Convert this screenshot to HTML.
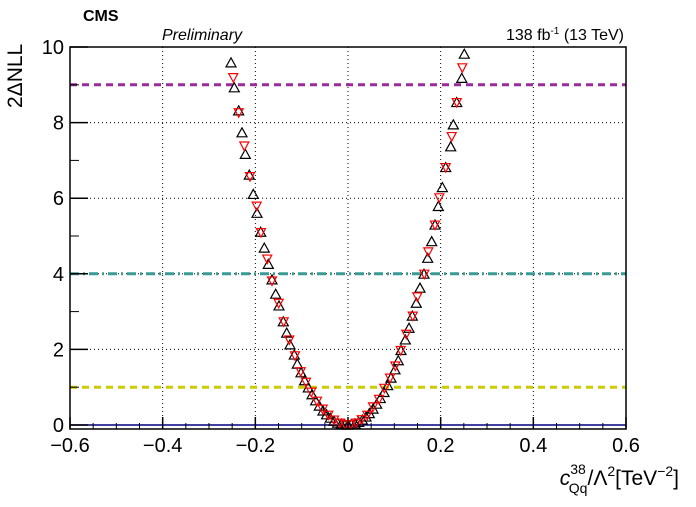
<!DOCTYPE html>
<html><head><meta charset="utf-8"><style>
body{margin:0;background:#fff;width:696px;height:502px;overflow:hidden}
svg{font-family:"Liberation Sans",Arial,sans-serif}
</style></head><body>
<svg id="chart" width="696" height="502" viewBox="0 0 696 502" xmlns="http://www.w3.org/2000/svg">
<g id="grid"></g>
<g id="refs"></g>
<line x1="70" y1="425" x2="626" y2="425" stroke="#000080" stroke-width="1.5"/>
<g id="series"></g>
<rect x="70" y="47" width="556" height="382" fill="none" stroke="#000" stroke-width="1.5"/>
<g id="axes"></g>
<text x="83" y="21" font-size="16" font-weight="bold">CMS</text>
<text x="162" y="40" font-size="16" font-style="italic">Preliminary</text>
<text x="624" y="40" font-size="16" text-anchor="end">138 fb<tspan font-size="10" dy="-6">-1</tspan><tspan dy="6"> (13 TeV)</tspan></text>
<text transform="translate(22,108) rotate(-90)" font-size="21">2ΔNLL</text>
<text x="679" y="485" font-size="21" text-anchor="end"><tspan font-style="italic">c</tspan><tspan font-size="14" dy="-11">38</tspan><tspan font-size="14" dx="-17" dy="19">Qq</tspan><tspan dy="-8">/Λ</tspan><tspan font-size="14" dy="-9">2</tspan><tspan dy="9">[TeV</tspan><tspan font-size="14" dy="-9">−2</tspan><tspan dy="9">]</tspan></text>
</svg>
<script>
const blackX=[-0.2525,-0.2454,-0.2359,-0.2288,-0.2216,-0.2130,-0.2044,-0.1964,-0.1884,-0.1807,-0.1720,-0.1640,-0.1561,-0.1489,-0.1396,-0.1323,-0.1252,-0.1159,-0.1094,-0.1014,-0.0937,-0.0857,-0.0777,-0.0699,-0.0619,-0.0540,-0.0462,-0.0382,-0.0302,-0.0224,-0.0145,-0.0065,0,
0.0071,0.0151,0.0231,0.0309,0.0389,0.0460,0.0540,0.0619,0.0697,0.0777,0.0857,0.0928,0.1014,0.1085,0.1144,0.1237,0.1317,0.1388,0.1474,0.1554,0.1640,0.1720,0.1806,0.1878,0.1949,0.2036,0.2109,0.2217,0.2273,0.2347,0.2455,0.2510];
const blackY=[9.58,8.92,8.31,7.73,7.16,6.61,6.10,5.60,5.10,4.68,4.25,3.84,3.46,3.15,2.73,2.43,2.12,1.85,1.61,1.38,1.17,0.98,0.80,0.64,0.50,0.37,0.27,0.18,0.10,0.05,0.02,0.00,0.00,
0.01,0.03,0.07,0.13,0.21,0.30,0.42,0.55,0.70,0.86,1.04,1.24,1.46,1.70,1.97,2.25,2.56,2.88,3.22,3.62,3.99,4.41,4.85,5.29,5.78,6.28,6.81,7.36,7.94,8.53,9.17,9.81];
const redX=[-0.2476,-0.2359,-0.2238,-0.2115,-0.1971,-0.1878,-0.1742,-0.1640,-0.1496,-0.1388,-0.1267,-0.1144,-0.1021,-0.0907,-0.0792,-0.0669,-0.0546,-0.0425,-0.0302,-0.0179,-0.0058,
0.0054,0.0173,0.0296,0.0417,0.0540,0.0669,0.0784,0.0907,0.1021,0.1137,0.1258,0.1397,0.1496,0.1647,0.1733,0.1878,0.1971,0.2109,0.2238,0.2347,0.2467];
const redY=[9.19,8.26,7.38,6.57,5.79,5.09,4.39,3.81,3.22,2.73,2.25,1.83,1.41,1.13,0.87,0.63,0.42,0.26,0.13,0.05,0.01,
0.01,0.05,0.14,0.26,0.48,0.68,0.97,1.24,1.56,1.97,2.40,2.88,3.39,3.99,4.58,5.29,6.01,6.81,7.63,8.53,9.45];
const xTicks=[-0.6,-0.4,-0.2,0,0.2,0.4,0.6];
const xTickLabels=["−0.6","−0.4","−0.2","0","0.2","0.4","0.6"];
const yTicks=[0,2,4,6,8,10];
const yTickLabels=["0","2","4","6","8","10"];
const refLevels=[9,4,1];
const refColors=["#9c2a9c","#3a9a96","#cccc00"];
const refDash=["7,5","9,4,2,4","7,5"];

const NS="http://www.w3.org/2000/svg";
const X0=70,X1=626,YB=425,YT=47;
const sx=v=>X0+(v+0.6)/1.2*(X1-X0);
const sy=v=>YB-v/10*(YB-YT);
function mk(tag,attrs,parent){const e=document.createElementNS(NS,tag);for(const k in attrs)e.setAttribute(k,attrs[k]);parent.appendChild(e);return e;}
const grid=document.getElementById('grid'),axes=document.getElementById('axes'),refs=document.getElementById('refs'),series=document.getElementById('series');

xTicks.forEach((t,i)=>{
  if(i>0&&i<xTicks.length-1){const g=mk('line',{x1:sx(t),x2:sx(t),y1:47,y2:429,stroke:'#000','stroke-width':1,'stroke-dasharray':'1,3'},grid);
  
  }
  const tk=mk('line',{x1:sx(t),x2:sx(t),y1:429,y2:417,stroke:'#000','stroke-width':1.5},axes);
  
  
  const lb=mk('text',{x:sx(t),y:452,'font-size':20,'text-anchor':'middle'},axes);
  lb.textContent=xTickLabels[i];
  
  
});
for(let v=-0.55;v<0.6;v+=0.05){
  if(Math.abs(Math.round(v*10)/10-v)<1e-6 && Math.abs(Math.round(v*5)/5-v)<1e-6) continue;
  const m=mk('line',{x1:sx(v),x2:sx(v),y1:429,y2:423,stroke:'#000','stroke-width':1},axes);
  
  
}
yTicks.forEach((t,i)=>{
  if(i>0&&i<yTicks.length-1){const g=mk('line',{x1:70,x2:626,y1:sy(t),y2:sy(t),stroke:'#000','stroke-width':1,'stroke-dasharray':'1,3'},grid);
  
  }
  const tk=mk('line',{x1:70,x2:88,y1:sy(t),y2:sy(t),stroke:'#000','stroke-width':1.5},axes);
  
  
  const lb=mk('text',{x:64,y:sy(t)+7,'font-size':20,'text-anchor':'end'},axes);
  lb.textContent=yTickLabels[i];
  
  
});
for(let v=1;v<10;v+=2){
  const m=mk('line',{x1:70,x2:79,y1:sy(v),y2:sy(v),stroke:'#000','stroke-width':1},axes);
  
  
}
refLevels.forEach((r,i)=>{
  const l=mk('line',{x1:70,x2:626,y1:sy(r),y2:sy(r),stroke:refColors[i],'stroke-width':3,'stroke-dasharray':refDash[i]},refs);
  
  
});
blackX.forEach((x,i)=>{
  const cx=sx(x),cy=sy(blackY[i]);
  const p=mk('polygon',{points:`${cx-5},${cy+4} ${cx+5},${cy+4} ${cx},${cy-5}`,fill:'none',stroke:'#000','stroke-width':1.2},series);
  
  
});
redX.forEach((x,i)=>{
  const cx=sx(x),cy=sy(redY[i]);
  const p=mk('polygon',{points:`${cx-4.5},${cy-4} ${cx+4.5},${cy-4} ${cx},${cy+4.5}`,fill:'none',stroke:'#f00','stroke-width':1.2},series);
  
  
});
</script>
</body></html>
